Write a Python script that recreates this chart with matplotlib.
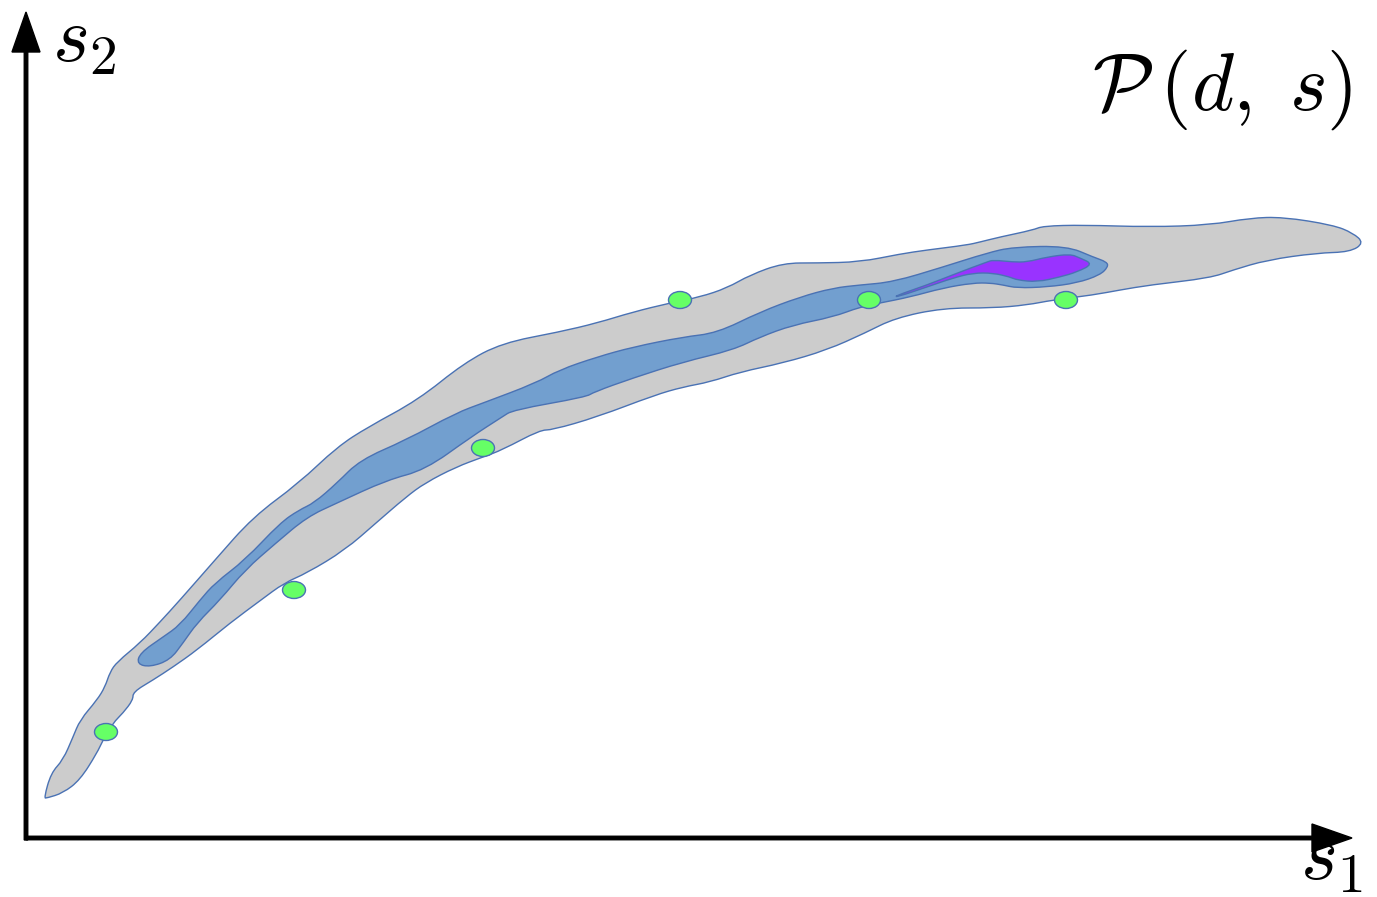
import numpy as np
import matplotlib
matplotlib.use("Agg")
import matplotlib.pyplot as plt
from matplotlib.path import Path
from matplotlib.patches import PathPatch, Ellipse

plt.rcParams['mathtext.fontset'] = 'cm'

# outline of the outer (gray) region, pixel coords (x right, y down)
gray_x = [44, 51, 63, 73, 80, 97, 105, 110, 117, 140, 160, 180, 215, 253, 299, 337, 368, 418, 464, 502,
          559, 597, 633, 670, 700, 727, 750, 783, 817, 860, 900, 927, 967, 980, 1000, 1033, 1043, 1083,
          1150, 1210, 1250, 1283, 1333, 1353, 1364, 1350, 1317, 1267, 1233, 1210, 1150, 1120, 1093, 1053,
          1027, 993, 943, 895, 865, 827, 783, 740, 710, 683, 655, 597, 552, 540, 502, 483, 456, 425, 406,
          376, 345, 307, 284, 261, 230, 197, 173, 153, 133, 133, 123, 113, 103, 97, 80, 63, 47]
gray_y = [798, 773, 760, 737, 720, 700, 687, 672, 662, 643, 622, 600, 560, 517, 483, 447, 427, 400, 363, 343,
          332, 323, 312, 303, 297, 288, 275, 263, 263, 262, 254, 250, 245, 242, 237, 230, 226, 225,
          227, 225, 218, 217, 225, 233, 243, 252, 253, 260, 270, 278, 285, 290, 295, 300,
          305, 308, 308, 318, 333, 350, 363, 372, 382, 387, 395, 417, 430, 430, 450, 457, 467, 483, 497,
          523, 550, 573, 583, 600, 623, 650, 667, 680, 692, 700, 713, 723, 740, 753, 780, 793, 798]

# middle (blue) region
blue_x = [137, 140, 163, 180, 200, 215, 245, 280, 299, 314, 337, 360, 406, 456, 483, 536, 559, 597, 633,
          683, 717, 760, 800, 833, 860, 893, 943, 987, 1013, 1067, 1093, 1107, 1108, 1100, 1077, 1047,
          1017, 1003, 990, 973, 943, 910, 880, 860, 833, 793, 760, 733, 683, 633, 594, 586, 513, 502,
          471, 425, 387, 337, 307, 276, 245, 220, 197, 183, 170, 150]
blue_y = [664, 653, 637, 625, 600, 583, 560, 523, 510, 503, 483, 460, 440, 413, 403, 383, 370, 357, 347,
          337, 333, 312, 297, 288, 285, 282, 267, 253, 247, 246, 257, 262, 267, 275, 283, 287,
          288, 285, 283, 283, 288, 297, 303, 307, 317, 325, 337, 350, 362, 378, 392, 397, 410, 417,
          437, 470, 480, 503, 517, 543, 570, 600, 623, 643, 660, 667]

# inner (purple) region
purple_x = [895, 927, 960, 987, 993, 1013, 1027, 1047, 1070, 1080, 1093, 1077, 1060, 1037, 1017, 1010,
            993, 973, 953, 927, 897]
purple_y = [296, 285, 272, 262, 260, 262, 262, 257, 254, 258, 264, 272, 277, 282, 280, 277,
            273, 273, 278, 287, 297]

# sample points
pts_x = [106, 294, 483, 680, 869, 1066]
pts_y = [732, 590, 448, 300, 300, 300]

edge = '#4a72b4'


def smooth_path(xs, ys):
    # closed quadratic-bezier path using the outline points as control points
    p = np.column_stack([xs, ys]).astype(float)
    n = len(p)
    mids = (p + np.roll(p, -1, axis=0)) / 2
    verts = [mids[-1]]
    codes = [Path.MOVETO]
    for i in range(n):
        verts += [p[i], mids[i]]
        codes += [Path.CURVE3, Path.CURVE3]
    verts.append(mids[-1])
    codes.append(Path.CLOSEPOLY)
    return Path(verts, codes)


fig = plt.figure(figsize=(13.77, 8.97), dpi=100)
ax = fig.add_axes([0, 0, 1, 1])
ax.set_xlim(0, 1377)
ax.set_ylim(897, 0)
ax.axis('off')

ax.add_patch(PathPatch(smooth_path(gray_x, gray_y), facecolor='#cccccc', edgecolor=edge, lw=1.0))
ax.add_patch(PathPatch(smooth_path(blue_x, blue_y), facecolor='#729fcf', edgecolor=edge, lw=1.0))
ax.add_patch(PathPatch(smooth_path(purple_x, purple_y), facecolor='#9933ff', edgecolor=edge, lw=1.0))

for x, y in zip(pts_x, pts_y):
    ax.add_patch(Ellipse((x, y), 23, 17, facecolor='#66ff66', edgecolor=edge, lw=1.0, zorder=5))

# axes arrows
ax.arrow(26, 840, 0, -828, width=3.5, head_width=28, head_length=40,
         length_includes_head=True, color='black', zorder=6)
ax.arrow(26, 838, 1326, 0, width=3.5, head_width=28, head_length=40,
         length_includes_head=True, color='black', zorder=6)

ax.text(52, 2, r'$s_2$', fontsize=57, ha='left', va='top')
ax.text(1300, 896, r'$s_1$', fontsize=57, ha='left', va='bottom')
ax.text(1352, 110, r'$\mathcal{P}\,(d,\;s)$', fontsize=58, ha='right', va='baseline')

fig.savefig('out.png', dpi=100)
